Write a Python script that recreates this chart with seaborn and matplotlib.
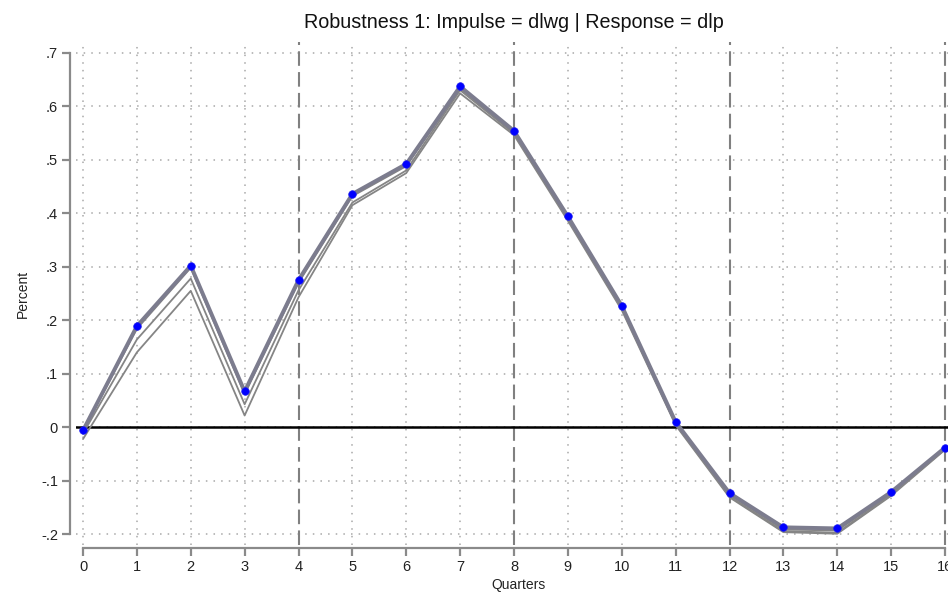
import matplotlib
matplotlib.use("Agg")
import matplotlib.pyplot as plt
import seaborn as sns
import numpy as np
import pandas as pd

quarters = list(range(17))
irf_main = [-0.006, 0.189, 0.302, 0.067, 0.275, 0.436, 0.492, 0.637, 0.554, 0.394,
            0.227, 0.010, -0.123, -0.187, -0.189, -0.121, -0.038]
irf_alt1 = [-0.008, 0.184, 0.298, 0.062, 0.270, 0.432, 0.488, 0.633, 0.551, 0.391,
            0.224, 0.008, -0.126, -0.191, -0.193, -0.124, -0.040]
irf_alt2 = [-0.012, 0.164, 0.278, 0.043, 0.256, 0.420, 0.480, 0.630, 0.549, 0.389,
            0.222, 0.006, -0.129, -0.194, -0.197, -0.126, -0.041]
irf_alt3 = [-0.022, 0.140, 0.255, 0.022, 0.243, 0.415, 0.475, 0.624, 0.546, 0.386,
            0.219, 0.004, -0.131, -0.196, -0.199, -0.128, -0.042]
y_ticks = [-0.2, -0.1, 0.0, 0.1, 0.2, 0.3, 0.4, 0.5, 0.6, 0.7]
y_tick_labels = ["-.2", "-.1", "0", ".1", ".2", ".3", ".4", ".5", ".6", ".7"]
x_ticks = list(range(17))
year_marks = [4, 8, 12, 16]

sns.set_theme(style="white")
plt.rcParams['font.family'] = ['Liberation Sans', 'DejaVu Sans']

fig = plt.figure(figsize=(9.48, 5.95), dpi=100)
W, H = 948, 595
x0px, x1px = 83.0, 945.0
ppx = (x1px - x0px) / 16.0
xlim = (-0.13, 16.3)
left_px = x0px + xlim[0] * ppx
right_px = x0px + xlim[1] * ppx
top_px, bot_px = 42.0, 545.0
ax = fig.add_axes([left_px / W, 1 - bot_px / H, (right_px - left_px) / W, (bot_px - top_px) / H])
ax.set_xlim(*xlim)
ax.set_ylim(-0.22, 0.72)

grid_col = "#a8a8a8"
for xv in x_ticks:
    if xv not in year_marks:
        ax.axvline(xv, color=grid_col, lw=1.1, ls=(0, (1, 4)), zorder=1)
for yv in y_ticks:
    ax.axhline(yv, color=grid_col, lw=1.1, ls=(0, (1, 4)), zorder=1)
for xv in year_marks:
    ax.axvline(xv, color="#808080", lw=1.5, ls=(0, (7, 3)), zorder=1.5)
ax.axhline(0, color="black", lw=1.8, zorder=2)

df = pd.DataFrame({"q": quarters, "main": irf_main, "a1": irf_alt1,
                   "a2": irf_alt2, "a3": irf_alt3})
for col in ["a3", "a2", "a1"]:
    sns.lineplot(data=df, x="q", y=col, ax=ax, color="#858585", lw=1.3, zorder=3)
sns.lineplot(data=df, x="q", y="main", ax=ax, color="#7c7c8e", lw=2.8, zorder=4)
sns.scatterplot(data=df, x="q", y="main", ax=ax, color="#0000ff", s=30,
                edgecolor="#1a1aee", linewidth=0.5, zorder=5, clip_on=False)

ax.set_xticks(x_ticks)
ax.set_xticklabels([str(v) for v in x_ticks])
ax.set_yticks(y_ticks)
ax.set_yticklabels(y_tick_labels)

spine_col = "#8a8a8a"
for s in ["top", "right"]:
    ax.spines[s].set_visible(False)
ax.spines["left"].set_position(("outward", 4))
ax.spines["left"].set_bounds(-0.2, 0.7)
ax.spines["bottom"].set_position(("outward", 2))
ax.spines["bottom"].set_bounds(0, 16)
for s in ["left", "bottom"]:
    ax.spines[s].set_color(spine_col)
    ax.spines[s].set_linewidth(1.6)
ax.tick_params(axis="both", which="major", direction="out", length=6, width=1.6,
               color=spine_col, labelsize=10.5, labelcolor="#222222", pad=3,
               left=True, bottom=True)

ax.set_xlabel("Quarters", fontsize=10, color="#222222", labelpad=3)
ax.set_ylabel("Percent", fontsize=10, color="#222222", labelpad=8)
fig.text(514 / W, 1 - 22 / H, "Robustness 1: Impulse = dlwg | Response = dlp",
         ha="center", va="center", fontsize=14.2, color="#111111")

fig.savefig("out.png", dpi=100)
